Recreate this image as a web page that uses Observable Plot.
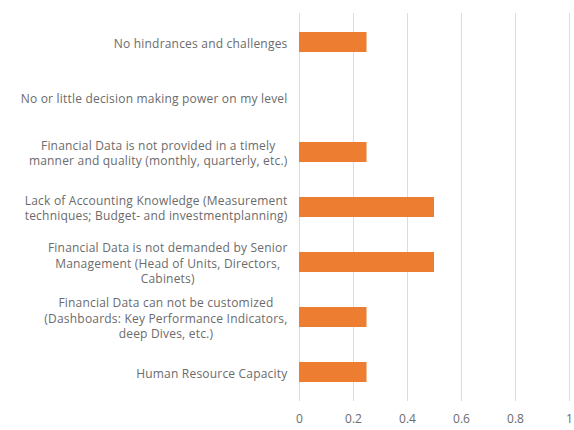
<!DOCTYPE html>
<html>
<head>
<meta charset="utf-8">
<script src="https://cdn.jsdelivr.net/npm/d3@7"></script>
<script src="https://cdn.jsdelivr.net/npm/@observablehq/plot@0.6"></script>
<style>
  html, body { margin: 0; padding: 0; background: #fff; }
  #chart svg { display: block; }
  #chart g[aria-label='y-axis tick label'] text { letter-spacing: 0.2px; }
</style>
</head>
<body>
<div id="chart"></div>
<script>
const categories = [
  "No hindrances and challenges",
  "No or little decision making power on my level",
  "Financial Data is not provided in a timely\nmanner and quality (monthly, quarterly, etc.)",
  "Lack of Accounting Knowledge (Measurement\ntechniques; Budget- and investmentplanning)",
  "Financial Data is not demanded by Senior\nManagement (Head of Units, Directors,\nCabinets)",
  "Financial Data can not be customized\n(Dashboards: Key Performance Indicators,\ndeep Dives, etc.)",
  "Human Resource Capacity"
];
const values = [0.25, 0, 0.25, 0.5, 0.5, 0.25, 0.25];
const xTicks = [0, 0.2, 0.4, 0.6, 0.8, 1];
const xTickLabels = ["0", "0.2", "0.4", "0.6", "0.8", "1"];

const data = categories.map((c, i) => ({category: c, value: values[i]}));
const FONT = "'Open Sans', sans-serif";
const TEXT = "#6b6b6b";

const chart = Plot.plot({
  width: 574,
  height: 430,
  marginLeft: 299,
  marginRight: 5,
  marginTop: 13,
  marginBottom: 29,
  style: {fontFamily: FONT, fontSize: "12px", color: TEXT, background: "#fff"},
  x: {domain: [0, 1], ticks: xTicks},
  y: {domain: categories, paddingInner: 0.64, paddingOuter: 0.32},
  marks: [
    Plot.gridX(xTicks, {stroke: "#dcdcdc", strokeOpacity: 1, strokeWidth: 1}),
    Plot.barX(data, {y: "category", x: "value", fill: "#ed7d31"}),
    Plot.axisX(xTicks, {
      tickSize: 0, tickPadding: 13, label: null,
      tickFormat: (d, i) => xTickLabels[i], fontSize: 12, fill: TEXT
    }),
    Plot.axisY({
      tickSize: 0, tickPadding: 12, label: null,
      lineHeight: 1.3, fontSize: 12, fill: TEXT
    })
  ]
});

document.getElementById("chart").appendChild(chart);

// center the lines of multi-line category labels within their block (Excel style)
chart.querySelectorAll("g[aria-label='y-axis tick label'] text").forEach(t => {
  const spans = t.querySelectorAll("tspan");
  if (spans.length < 2) return;
  let w = 0;
  spans.forEach(s => { w = Math.max(w, s.getComputedTextLength()); });
  t.setAttribute("text-anchor", "middle");
  spans.forEach(s => s.setAttribute("x", -w / 2));
});
</script>
</body>
</html>
